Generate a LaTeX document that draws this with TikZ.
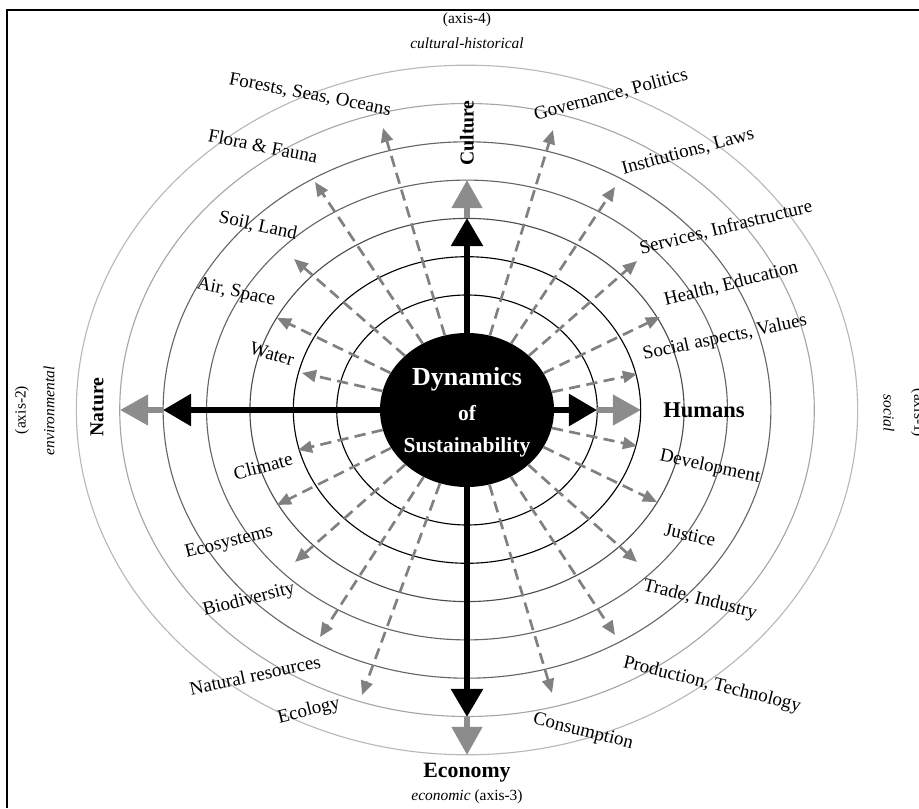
\documentclass[tikz,border=0pt]{standalone}
\usepackage{fontspec}
\setmainfont{Liberation Serif}
\usetikzlibrary{arrows.meta,shapes.geometric}

\begin{document}
\begin{tikzpicture}[
  x=0.025cm, y=0.025cm,
  core/.style={ellipse, fill=black, inner sep=0pt, minimum width=4.35cm, minimum height=3.85cm},
  coretext/.style={text=white, inner sep=0pt, font=\bfseries\fontsize{15.3}{17}\selectfont},
  ring/.style={line width=0.8pt},
  topic/.style={font=\fontsize{13.5}{16}\selectfont, inner sep=1pt},
  axislabel/.style={font=\bfseries\fontsize{14}{16}\selectfont, inner sep=1pt},
  side/.style={font=\fontsize{11}{13}\selectfont, inner sep=1pt},
  link/.style={-{Triangle[length=10pt, width=8.5pt]}, draw=black!50, line width=1.9pt, dash pattern=on 8pt off 4.5pt},
  mainarrow/.style={-{Triangle[length=20pt, width=22pt]}, line width=4.3pt},
  outarrow/.style={-{Triangle[length=20pt, width=21pt]}, draw=black!45, line width=4.3pt}
]
  \useasboundingbox (-467,-398) rectangle (452,410);
  % frame
  \draw[line width=0.8pt] (-460,-398) -- (-460,400) -- (452,400);

  % core
  \node[core] (dyn) at (0,0) {};

  % rings
  \foreach \k/\shade in {1/100,2/100,3/70,4/60,5/60,6/35,7/28}
    \draw[ring, draw=black!\shade] (0,0) ellipse [x radius={1.133*(76.7+38.3*\k)}, y radius={76.7+38.3*\k}];

  % dashed links
  \foreach \name/\x/\y in {forest/-84/282, flora/-152/228, soil/-173/151, air/-190/92, water/-165/37,
                           gov/86/280, inst/148/223, serv/170/149, health/193/93, values/170/36,
                           climate/-169/-40, ecosys/-190/-95, biodiv/-172/-152, natres/-147/-227, ecol/-105/-285,
                           devel/170/-36, justice/190/-92, trade/170/-152, prod/148/-225, cons/85/-283}
  {
    \coordinate (\name) at (\x,\y);
    \draw[link] (dyn) -- (\name);
  }

  % main axes
  \coordinate (culB) at (0,192);   \coordinate (culG) at (0,230);
  \coordinate (humB) at (130,0);   \coordinate (humG) at (174,0);
  \coordinate (natB) at (-304,0);  \coordinate (natG) at (-347,0);
  \coordinate (ecoB) at (0,-307);  \coordinate (ecoG) at (0,-345);
  \draw[outarrow] (culB) -- (culG);
  \draw[outarrow] (humB) -- (humG);
  \draw[outarrow] (natB) -- (natG);
  \draw[outarrow] (ecoB) -- (ecoG);
  \draw[mainarrow] (dyn) -- (culB);
  \draw[mainarrow] (dyn) -- (humB);
  \draw[mainarrow] (dyn) -- (natB);
  \draw[mainarrow] (dyn) -- (ecoB);

  % core text
  \node[coretext, font=\bfseries\fontsize{18.5}{21}\selectfont] (dynA) at (0,31) {Dynamics};
  \node[coretext] (dynB) at (0,-3) {of};
  \node[coretext] (dynC) at (0,-37) {Sustainability};

  % topics
  \node[topic, rotate=-11] (forestL) at (-157,315) {Forests, Seas, Oceans};
  \node[topic, rotate=-11] (floraL) at (-204,264) {Flora \& Fauna};
  \node[topic, rotate=-12] (soilL) at (-209,184) {Soil, Land};
  \node[topic, rotate=-12] (airL) at (-231,117) {Air, Space};
  \node[topic, rotate=-16] (waterL) at (-195,56) {Water};
  \node[topic, rotate=15] (climateL) at (-204,-56) {Climate};
  \node[topic, rotate=14] (ecosysL) at (-238,-133) {Ecosystems};
  \node[topic, rotate=14] (biodivL) at (-218,-190) {Biodiversity};
  \node[topic, rotate=12] (natresL) at (-212,-265) {Natural resources};
  \node[topic, rotate=14] (ecolL) at (-158,-301) {Ecology};
  \node[topic, rotate=15] (govL) at (144,315) {Governance, Politics};
  \node[topic, rotate=15] (instL) at (221,258) {Institutions, Laws};
  \node[topic, rotate=14] (servL) at (259,182) {Services, Infrastructure};
  \node[topic, rotate=14] (healthL) at (264,126) {Health, Education};
  \node[topic, rotate=12] (valuesL) at (258,72) {Social aspects, Values};
  \node[topic, rotate=-12] (develL) at (243,-57) {Development};
  \node[topic, rotate=-13] (justiceL) at (223,-125) {Justice};
  \node[topic, rotate=-14] (tradeL) at (233,-190) {Trade, Industry};
  \node[topic, rotate=-14] (prodL) at (245,-275) {Production, Technology};
  \node[topic, rotate=-14] (consL) at (116,-322) {Consumption};

  % axis labels
  \node[axislabel, rotate=90] (culture) at (0,277) {Culture};
  \node[axislabel, rotate=90] (nature) at (-370,3) {Nature};
  \node[axislabel, font=\bfseries\fontsize{16}{18}\selectfont] (humans) at (237,0) {Humans};
  \node[axislabel, font=\bfseries\fontsize{15.5}{18}\selectfont] (economy) at (0,-363) {Economy};

  % dimensions
  \node[side] (axisD) at (0,390) {(axis-4)};
  \node[side, font=\itshape\fontsize{11}{13}\selectfont] (cultural) at (0,367) {cultural-historical};
  \node[side, rotate=90] (axisB) at (-445,0) {(axis-2)};
  \node[side, rotate=90, font=\itshape\fontsize{11}{13}\selectfont] (environ) at (-418,-1) {environmental};
  \node[side, rotate=-90, font=\itshape\fontsize{11}{13}\selectfont] (social) at (422,-3) {social};
  \node[side, rotate=-90] (axisA) at (451,-3) {(axis-1)};
  \node[side] (axisC) at (0,-387) {\textit{economic} (axis-3)};
\end{tikzpicture}
\end{document}
